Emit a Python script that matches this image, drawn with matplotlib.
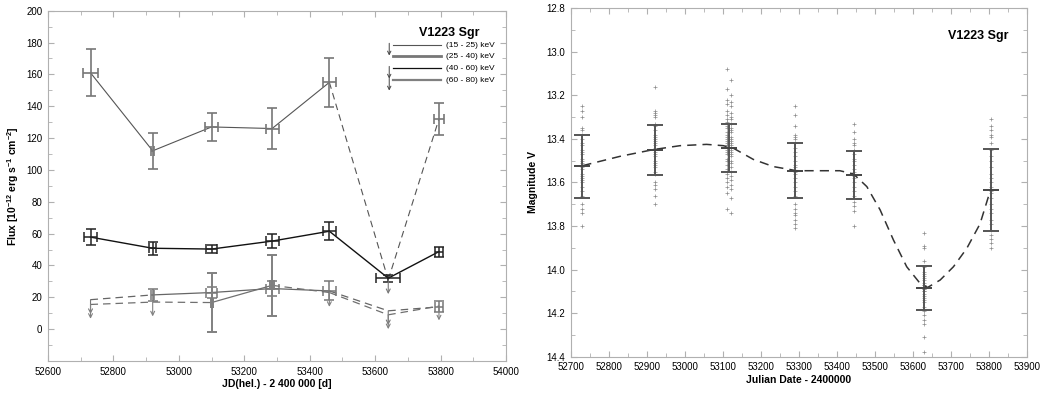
import numpy as np
import matplotlib.pyplot as plt
from matplotlib.ticker import MultipleLocator

plt.rcParams['font.family'] = ['Liberation Sans', 'DejaVu Sans']
plt.rcParams['mathtext.default'] = 'regular'

'------DATA------'

# Left panel: X-ray fluxes per epoch
jd_x = [52730, 52920, 53100, 53285, 53460, 53640, 53795]

# (15 - 25) keV
f1 = [161, 112, 127, 126, 155, 31, 132]
f1_err = [14.7, 11.4, 9, 12.6, 15.2, 0, 10]
f1_xerr = [22, 4, 20, 20, 20, 0, 15]
f1_ul = [0, 0, 0, 0, 0, 1, 0]

# (25 - 40) keV
f2 = [57.8, 50.8, 50.3, 55.3, 61.5, 32, 48.7]
f2_err = [5, 4.2, 2.6, 4.5, 5.5, 2.1, 3.2]
f2_xerr = [20, 10, 18, 20, 20, 36, 13]
f2_ul = [0, 0, 0, 0, 0, 0, 0]

# (40 - 60) keV
f3 = [18.5, 21.5, 23, 25.5, 24, 11.5, 14]
f3_err = [0, 4, 3.5, 4.5, 6, 0, 3.5]
f3_xerr = [0, 5, 18, 20, 20, 0, 12]
f3_ul = [1, 0, 0, 0, 0, 1, 0]

# (60 - 80) keV
f4 = [15.5, 17, 16.7, 27.5, 23, 9, 14.5]
f4_err = [0, 0, 18.4, 19, 0, 0, 0]
f4_xerr = [0, 0, 3, 5, 0, 0, 0]
f4_ul = [1, 1, 0, 0, 1, 1, 1]

bands = ['(15 - 25) keV', '(25 - 40) keV', '(40 - 60) keV', '(60 - 80) keV']

# Right panel: V band photometry
jd_v = [52730, 52920, 53115, 53290, 53445, 53630, 53805]
v_mean = [13.525, 13.45, 13.44, 13.545, 13.565, 14.085, 13.635]
v_err = [0.145, 0.115, 0.11, 0.127, 0.11, 0.10, 0.19]

v_ep1 = [13.25, 13.27, 13.30, 13.35, 13.36, 13.38, 13.40, 13.42, 13.43, 13.45,
         13.46, 13.47, 13.49, 13.50, 13.51, 13.52, 13.53, 13.54, 13.56, 13.57,
         13.58, 13.59, 13.60, 13.62, 13.64, 13.66, 13.70, 13.72, 13.74, 13.80]
v_ep2 = [13.16, 13.27, 13.28, 13.29, 13.30, 13.33, 13.34, 13.36, 13.38, 13.39,
         13.40, 13.41, 13.42, 13.43, 13.44, 13.45, 13.45, 13.46, 13.47, 13.48,
         13.50, 13.51, 13.52, 13.53, 13.55, 13.56, 13.60, 13.61, 13.63, 13.66, 13.70]
v_ep3a = [13.08, 13.17, 13.22, 13.24, 13.27, 13.29, 13.31, 13.32, 13.34, 13.35,
          13.37, 13.38, 13.39, 13.40, 13.41, 13.42, 13.43, 13.44, 13.45, 13.46,
          13.47, 13.49, 13.50, 13.52, 13.54, 13.56, 13.58, 13.60, 13.62, 13.65, 13.72]
v_ep3b = [13.13, 13.20, 13.23, 13.25, 13.28, 13.30, 13.31, 13.33, 13.35, 13.36,
          13.37, 13.39, 13.40, 13.41, 13.42, 13.43, 13.44, 13.45, 13.46, 13.47,
          13.48, 13.50, 13.51, 13.53, 13.55, 13.57, 13.59, 13.61, 13.63, 13.67, 13.74]
v_ep4 = [13.25, 13.29, 13.34, 13.38, 13.39, 13.40, 13.42, 13.44, 13.46, 13.48,
         13.50, 13.52, 13.53, 13.55, 13.56, 13.58, 13.60, 13.62, 13.64, 13.66,
         13.70, 13.72, 13.74, 13.75, 13.77, 13.79, 13.81]
v_ep5 = [13.33, 13.37, 13.40, 13.42, 13.43, 13.45, 13.47, 13.49, 13.50, 13.52,
         13.54, 13.55, 13.57, 13.58, 13.60, 13.62, 13.64, 13.66, 13.69, 13.71,
         13.73, 13.80]
v_ep6 = [13.83, 13.89, 13.90, 13.96, 13.99, 14.01, 14.02, 14.03, 14.04, 14.05,
         14.06, 14.07, 14.07, 14.08, 14.08, 14.09, 14.09, 14.10, 14.10, 14.11,
         14.12, 14.13, 14.14, 14.15, 14.17, 14.19, 14.21, 14.23, 14.25, 14.31, 14.38]
v_ep7 = [13.31, 13.34, 13.36, 13.38, 13.39, 13.42, 13.45, 13.48, 13.50, 13.53,
         13.56, 13.58, 13.60, 13.62, 13.64, 13.65, 13.67, 13.70, 13.72, 13.74,
         13.77, 13.79, 13.82, 13.84, 13.86, 13.88, 13.90]
v_nights = [52730, 52920, 53110, 53120, 53290, 53445, 53630, 53805]
v_points = [v_ep1, v_ep2, v_ep3a, v_ep3b, v_ep4, v_ep5, v_ep6, v_ep7]

# dashed trend curve
curve_jd = [52730, 52829, 52917, 52987, 53057, 53101, 53128, 53180, 53233, 53294,
            53356, 53408, 53444, 53479, 53514, 53549, 53584, 53619, 53639, 53672,
            53707, 53742, 53777, 53800]
curve_v = [13.523, 13.48, 13.449, 13.431, 13.425, 13.431, 13.443, 13.494, 13.527, 13.546,
           13.546, 13.546, 13.561, 13.619, 13.726, 13.864, 13.987, 14.063, 14.082, 14.048,
           13.987, 13.903, 13.79, 13.66]

'------FUNCTIONS------'

DASH = (0, (6, 4))


def draw_arrow(ax, x, y, color, lw):
    ax.annotate('', xy=(x, y - 9), xytext=(x, y),
                arrowprops=dict(arrowstyle='->', color=color, lw=lw,
                                shrinkA=0, shrinkB=0, mutation_scale=7))


def draw_band(ax, x, y, yerr, xerr, ul, lcolor, lw, ecolor, elw):
    # connecting segments: solid between detections, dashed otherwise
    for i in range(len(x) - 1):
        ls = '-' if not (ul[i] or ul[i+1]) else DASH
        ax.plot(x[i:i+2], y[i:i+2], color=lcolor, lw=lw, ls=ls)
    for i in range(len(x)):
        if ul[i]:
            draw_arrow(ax, x[i], y[i], ecolor, 0.8)
        else:
            ax.errorbar(x[i], y[i], yerr=yerr[i], xerr=xerr[i], fmt='none',
                        ecolor=ecolor, elinewidth=elw, capsize=3.5, capthick=elw)


def style_axes(ax):
    for s in ax.spines.values():
        s.set_color('#b0b0b0')
        s.set_linewidth(0.8)
    ax.tick_params(which='both', direction='in', top=True, right=True,
                   color='#b0b0b0', labelsize=7, pad=4)
    ax.tick_params(which='major', length=4)
    ax.tick_params(which='minor', length=3)


'------MAIN------'

fig = plt.figure(figsize=(10.41, 3.94), dpi=100)

# Left panel
ax1 = fig.add_axes([0.0461, 0.0838, 0.440, 0.889])
draw_band(ax1, jd_x, f1, f1_err, f1_xerr, f1_ul, '#555555', 0.8, '#777777', 1.2)
draw_band(ax1, jd_x, f2, f2_err, f2_xerr, f2_ul, '#111111', 1.0, '#222222', 1.1)
draw_band(ax1, jd_x, f3, f3_err, f3_xerr, f3_ul, '#666666', 0.9, '#777777', 1.1)
draw_band(ax1, jd_x, f4, f4_err, f4_xerr, f4_ul, '#707070', 0.9, '#808080', 1.4)

ax1.set_xlim(52600, 54000)
ax1.set_ylim(-20, 200)
ax1.set_yticks(np.arange(0, 201, 20))
ax1.xaxis.set_major_locator(MultipleLocator(200))
ax1.xaxis.set_minor_locator(MultipleLocator(100))
ax1.yaxis.set_minor_locator(MultipleLocator(10))
style_axes(ax1)
ax1.set_xlabel('JD(hel.) - 2 400 000 [d]', fontsize=7.5, fontweight='bold', labelpad=2)
ax1.set_ylabel('Flux [10$^{-12}$ erg s$^{-1}$ cm$^{-2}$]', fontsize=7.5,
               fontweight='bold', labelpad=4)

# hand-made legend
ax1.text(0.876, 0.936, 'V1223 Sgr', transform=ax1.transAxes, ha='center', va='center',
         fontsize=9, fontweight='bold')
leg_y = [0.902, 0.870, 0.836, 0.802]
leg_col = ['#555555', '#777777', '#111111', '#808080']
leg_lw = [0.8, 2.0, 0.9, 1.6]
leg_arrow = [1, 0, 1, 1]
for i in range(4):
    ax1.plot([0.753, 0.858], [leg_y[i], leg_y[i]], transform=ax1.transAxes,
             color=leg_col[i], lw=leg_lw[i])
    ax1.text(0.869, leg_y[i], bands[i], transform=ax1.transAxes, ha='left',
             va='center', fontsize=6)
    if leg_arrow[i]:
        ax1.annotate('', xy=(0.745, leg_y[i] - 0.03), xytext=(0.745, leg_y[i] + 0.005),
                     xycoords='axes fraction',
                     arrowprops=dict(arrowstyle='->', color='#444444', lw=0.7,
                                     shrinkA=0, shrinkB=0, mutation_scale=6))

# Right panel
ax2 = fig.add_axes([0.5485, 0.0947, 0.4378, 0.8843])
for jd, pts in zip(v_nights, v_points):
    ax2.plot([jd] * len(pts), pts, ls='none', marker='+', ms=3, mew=0.5,
             color='#8a8a8a')
ax2.plot(curve_jd, curve_v, color='#333333', lw=1.1, ls=DASH)
ax2.errorbar(jd_v, v_mean, yerr=v_err, fmt='_', ms=11, mew=1.4, color='#444444',
             ecolor='#555555', elinewidth=1.4, capsize=5.5, capthick=1.4)

ax2.set_xlim(52700, 53900)
ax2.set_ylim(14.4, 12.8)
ax2.xaxis.set_major_locator(MultipleLocator(100))
ax2.xaxis.set_minor_locator(MultipleLocator(50))
ax2.yaxis.set_major_locator(MultipleLocator(0.2))
ax2.yaxis.set_minor_locator(MultipleLocator(0.1))
ax2.yaxis.set_major_formatter(plt.FormatStrFormatter('%.1f'))
style_axes(ax2)
ax2.set_xlabel('Julian Date - 2400000', fontsize=7.5, fontweight='bold', labelpad=2)
ax2.set_ylabel('Magnitude V', fontsize=7.5, fontweight='bold', labelpad=6)
ax2.text(0.959, 0.92, 'V1223 Sgr', transform=ax2.transAxes, ha='right', va='center',
         fontsize=9, fontweight='bold')

plt.savefig('out.png', dpi=100)
